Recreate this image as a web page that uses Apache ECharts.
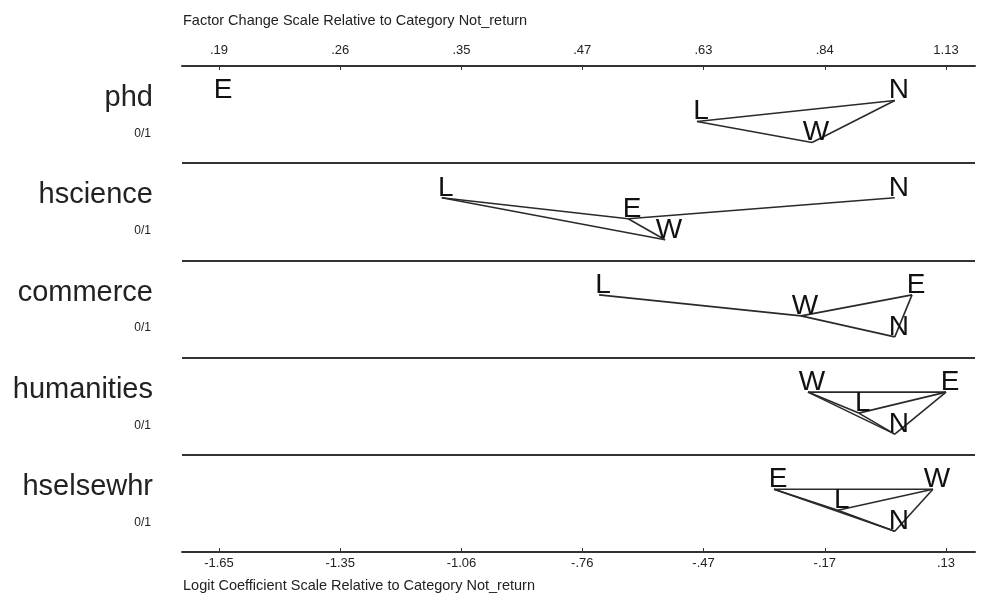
<!DOCTYPE html>
<html>
<head>
<meta charset="utf-8">
<script src="https://cdn.jsdelivr.net/npm/echarts@6/dist/echarts.min.js"></script>
<style>
html,body{margin:0;padding:0;background:#fff;}
#chart{width:983px;height:604px;}
</style>
</head>
<body>
<div id="chart"></div>
<script>
// ---- data ----
const variables = ['phd', 'hscience', 'commerce', 'humanities', 'hselsewhr'];
const varUnits = ['0/1', '0/1', '0/1', '0/1', '0/1'];
const outcomes = ['E', 'L', 'N', 'W'];
// logit coefficients relative to Not_return (N)
const coefE = [-1.65, -0.651, 0.042, 0.125, -0.295];
const coefL = [-0.483, -1.106, -0.722, -0.088, -0.139];
const coefN = [0, 0, 0, 0, 0];
const coefW = [-0.202, -0.561, -0.229, -0.212, 0.093];
// vertical stagger level of each letter within its row
const levelE = [0, 1, 0, 0, 0];
const levelL = [1, 0, 0, 1, 1];
const levelN = [0, 0, 2, 2, 2];
const levelW = [2, 2, 1, 0, 0];
// pairs of outcomes joined by a line (not significantly different)
const linksPhd = ['L-N', 'L-W', 'W-N'];
const linksHscience = ['L-E', 'L-W', 'E-W', 'E-N'];
const linksCommerce = ['L-W', 'W-E', 'W-N', 'E-N'];
const linksHumanities = ['W-E', 'W-L', 'W-N', 'L-E', 'L-N', 'E-N'];
const linksHselsewhr = ['E-W', 'E-L', 'E-N', 'L-W', 'L-N', 'W-N'];
// axis ticks
const tickVals = [-1.65, -1.354, -1.058, -0.763, -0.467, -0.171, 0.125];
const bottomTickLabels = ['-1.65', '-1.35', '-1.06', '-.76', '-.47', '-.17', '.13'];
const topTickLabels = ['.19', '.26', '.35', '.47', '.63', '.84', '1.13'];
const topTitle = 'Factor Change Scale Relative to Category Not_return';
const bottomTitle = 'Logit Coefficient Scale Relative to Category Not_return';

// ---- build ----
const coefs = { E: coefE, L: coefL, N: coefN, W: coefW };
const levels = { E: levelE, L: levelL, N: levelN, W: levelW };
const links = [linksPhd, linksHscience, linksCommerce, linksHumanities, linksHselsewhr];
const LEVEL_BASE = 0.355, LEVEL_STEP = 0.216;
function yOf(k, r) { return r + LEVEL_BASE + LEVEL_STEP * levels[k][r]; }

const letterData = [], letterText = [];
variables.forEach((v, r) => {
  outcomes.forEach(k => {
    letterData.push([coefs[k][r], yOf(k, r)]);
    letterText.push(k);
  });
});
const segData = [];
links.forEach((arr, r) => {
  arr.forEach(p => {
    const [a, b] = p.split('-');
    segData.push([coefs[a][r], yOf(a, r), coefs[b][r], yOf(b, r)]);
  });
});

function labelFor(list) {
  return function (val) {
    let best = 0, bd = Infinity;
    tickVals.forEach((t, i) => { const d = Math.abs(t - val); if (d < bd) { bd = d; best = i; } });
    return list[best];
  };
}

const FONT = '"Liberation Sans", Arial, Helvetica, sans-serif';
const LETTER_FS = 28;

const chart = echarts.init(document.getElementById('chart'), null, { renderer: 'canvas' });
const xCommon = {
  type: 'value', min: -1.7403, max: 0.1958,
  axisLine: { show: true, onZero: false, lineStyle: { color: '#333', width: 2 } },
  axisTick: { show: true, inside: true, length: 4, customValues: tickVals, lineStyle: { color: '#333', width: 1 } },
  splitLine: { show: false }
};
chart.setOption({
  animation: false,
  backgroundColor: '#ffffff',
  grid: { left: 182, right: 8, top: 66, bottom: 52 },
  xAxis: [
    Object.assign({}, xCommon, {
      position: 'bottom',
      axisLabel: { customValues: tickVals, formatter: labelFor(bottomTickLabels), margin: 5, fontFamily: FONT, fontSize: 13, color: '#222' }
    }),
    Object.assign({}, xCommon, {
      position: 'top',
      axisLabel: { customValues: tickVals, formatter: labelFor(topTickLabels), margin: 9, fontFamily: FONT, fontSize: 13, color: '#222' }
    })
  ],
  yAxis: [
    {
      type: 'value', min: 0, max: 5, interval: 1, inverse: true,
      axisLine: { show: false }, axisTick: { show: false }, axisLabel: { show: false },
      splitLine: { show: true, lineStyle: { color: '#333', width: 2 } }
    },
    {
      type: 'category', data: variables, inverse: true, position: 'left',
      axisLine: { show: false }, axisTick: { show: false }, splitLine: { show: false },
      axisLabel: {
        margin: 29,
        align: 'right',
        formatter: function (val, idx) { return '{a|' + val + '}\n{b|' + varUnits[idx] + '}'; },
        rich: {
          a: { fontFamily: FONT, fontSize: 29, lineHeight: 38, color: '#222', align: 'right' },
          b: { fontFamily: FONT, fontSize: 12, lineHeight: 33, color: '#222', align: 'right', padding: [0, 2, 0, 0] }
        }
      }
    }
  ],
  graphic: [
    { type: 'text', left: 183, top: 13, style: { text: topTitle, font: '14.5px ' + FONT, fill: '#222' } },
    { type: 'text', left: 183, top: 578, style: { text: bottomTitle, font: '14.5px ' + FONT, fill: '#222' } }
  ],
  series: [
    {
      type: 'custom', xAxisIndex: 0, yAxisIndex: 0, silent: true,
      data: segData,
      encode: { x: [0, 2], y: [1, 3] },
      renderItem: function (params, api) {
        const p1 = api.coord([api.value(0), api.value(1)]);
        const p2 = api.coord([api.value(2), api.value(3)]);
        return { type: 'line', shape: { x1: p1[0], y1: p1[1], x2: p2[0], y2: p2[1] }, style: { stroke: '#2a2a2a', lineWidth: 1.6 } };
      }
    },
    {
      type: 'custom', xAxisIndex: 0, yAxisIndex: 0, silent: true,
      data: letterData,
      encode: { x: 0, y: 1 },
      renderItem: function (params, api) {
        const p = api.coord([api.value(0), api.value(1)]);
        return {
          type: 'text', x: p[0] + 4, y: p[1] - 0.35 * LETTER_FS,
          style: { text: letterText[params.dataIndex], font: LETTER_FS + 'px ' + FONT, fill: '#111', align: 'center', verticalAlign: 'middle' }
        };
      }
    }
  ]
});
</script>
</body>
</html>
